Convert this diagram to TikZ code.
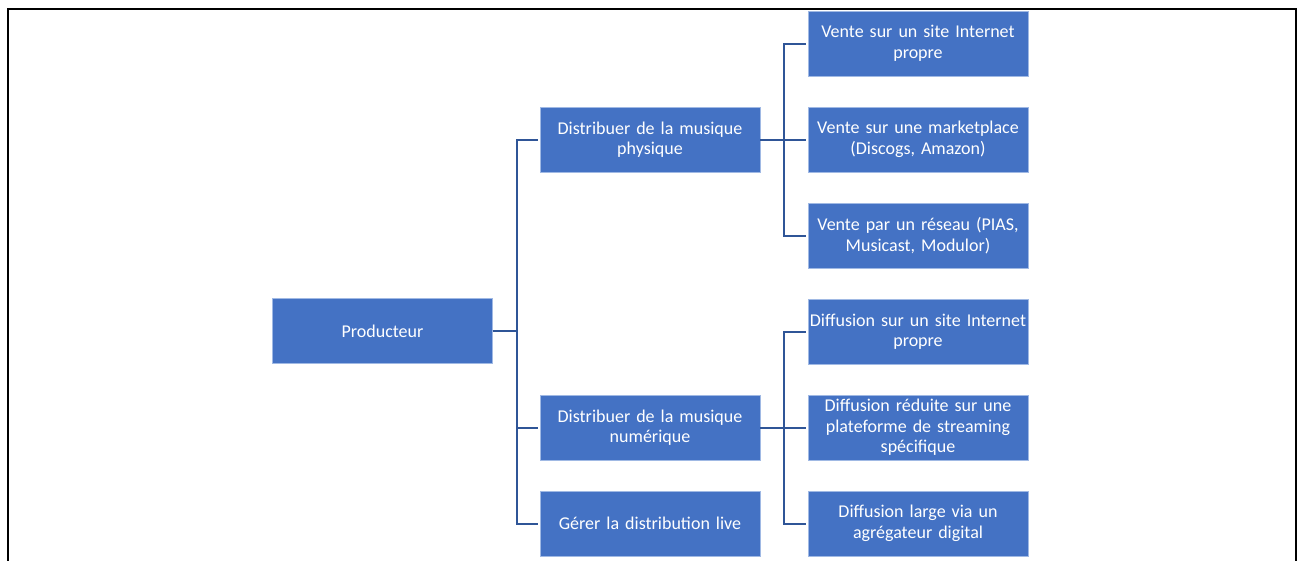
\documentclass[tikz,border=0pt]{standalone}
\usepackage{fontspec}
\setmainfont{Carlito}
\definecolor{boxfill}{RGB}{68,114,196}
\definecolor{boxedge}{RGB}{160,185,228}
\definecolor{conncol}{RGB}{47,85,151}
\begin{document}
\begin{tikzpicture}[x=1pt,y=-1pt,
  box/.style={rectangle,fill=boxfill,draw=boxedge,line width=0.8pt,minimum width=220pt,minimum height=65pt,inner sep=0pt,text width=220pt,align=center,text=white,font=\fontsize{18}{20.5}\selectfont},
  conn/.style={draw=conncol,line width=2pt}]
\useasboundingbox (0,0) rectangle (1301,560);
\draw[line width=2.2pt] (8,575) -- (8,9) -- (1296,9) -- (1296,575);
\node[box] (prod) at (382.5,331) {Producteur};
\node[box] (l2a) at (650,139.5) {Distribuer de la musique\\physique};
\node[box] (l2b) at (650,427.5) {Distribuer de la musique\\numérique};
\node[box] (l2c) at (650,523.5) {Gérer la distribution live};
\node[box] (a1) at (918,43.5) {Vente sur un site Internet\\propre};
\node[box] (a2) at (918,139.5) {Vente sur une marketplace\\(Discogs, Amazon)};
\node[box] (a3) at (918,235.5) {Vente par un réseau (PIAS,\\Musicast, Modulor)};
\node[box] (b1) at (918,331.5) {Diffusion sur un site Internet\\propre};
\node[box] (b2) at (918,427.5) {Diffusion réduite sur une\\plateforme de streaming\\spécifique};
\node[box] (b3) at (918,523.5) {Diffusion large via un\\agrégateur digital};
\draw[conn] (prod.east) -- ++(24,0) |- ([xshift=-2pt]l2a.west);
\draw[conn] (prod.east) -- ++(24,0) |- ([xshift=-2pt]l2b.west);
\draw[conn] (prod.east) -- ++(24,0) |- ([xshift=-2pt]l2c.west);
\draw[conn] (l2a.east) -- ++(24,0) |- ([xshift=-2pt]a1.west);
\draw[conn] (l2a.east) -- ([xshift=-2pt]a2.west);
\draw[conn] (l2a.east) -- ++(24,0) |- ([xshift=-2pt]a3.west);
\draw[conn] (l2b.east) -- ++(24,0) |- ([xshift=-2pt]b1.west);
\draw[conn] (l2b.east) -- ([xshift=-2pt]b2.west);
\draw[conn] (l2b.east) -- ++(24,0) |- ([xshift=-2pt]b3.west);
\end{tikzpicture}
\end{document}
